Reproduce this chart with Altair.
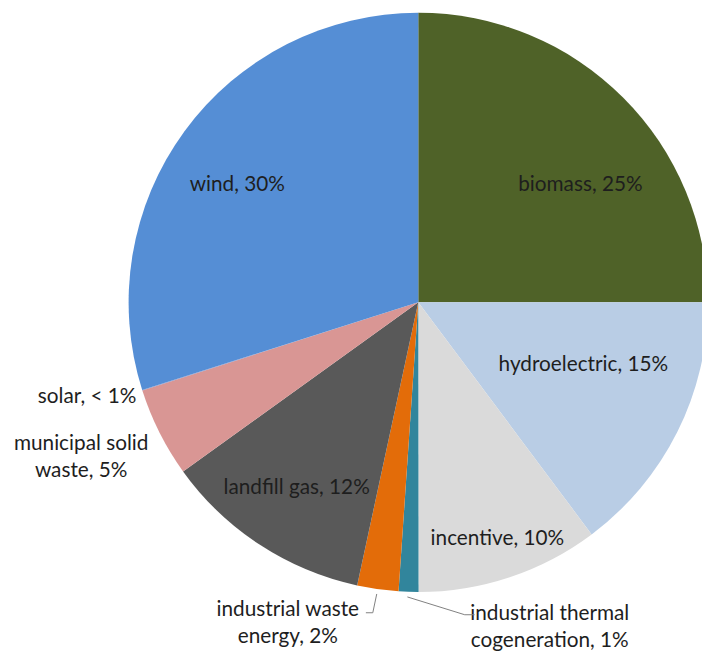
import altair as alt
import pandas as pd

# data (percent of total)
categories = ["biomass", "hydroelectric", "incentive", "industrial thermal cogeneration",
              "industrial waste energy", "landfill gas", "municipal solid waste", "solar", "wind"]
shares = [25.0, 14.8, 10.2, 1.1, 2.3, 11.7, 5.0, 0.03, 29.9]
colors = ["#4F6228", "#B9CDE5", "#DADADA", "#31859C", "#E36C09", "#595959", "#D99694", "#8A8FC0", "#558ED5"]

df = pd.DataFrame({"category": categories, "share": shares, "idx": list(range(len(categories)))})

W, H = 702, 648
CX, CY, R = 415, 294, 293

pie = alt.Chart(df).mark_arc(stroke=None, strokeWidth=0).encode(
    theta=alt.Theta("share:Q", stack=True),
    order=alt.Order("idx:Q", sort="ascending"),
    color=alt.Color("category:N", scale=alt.Scale(domain=categories, range=colors), legend=None),
    x=alt.value(CX), y=alt.value(CY), radius=alt.value(R),
)

# label annotations (text, x, y) in plot coordinates
label_text = ["wind, 30%", "biomass, 25%", "hydroelectric, 15%", "incentive, 10%",
              "landfill gas, 12%", "solar, < 1%", "municipal solid\nwaste, 5%",
              "industrial waste\nenergy, 2%", "industrial thermal\ncogeneration, 1%"]
label_x = [232, 579, 582, 495, 292, 80, 74, 283, 548]
label_y = [175, 175, 357, 533, 482, 390, 437, 605, 609]

layers = [pie]
for t, lx, ly in zip(label_text, label_x, label_y):
    layers.append(
        alt.Chart(pd.DataFrame({"t": [t]})).mark_text(
            font="Lato", fontSize=21, color="#1E1E1E", align="center", baseline="middle",
            lineBreak="\n", lineHeight=28,
        ).encode(text="t:N", x=alt.value(lx), y=alt.value(ly))
    )

# leader lines
segments = [
    (373, 589, 369, 608), (369, 608, 362, 608),
    (404, 592, 462, 610), (462, 610, 472, 610),
]
for x1, y1, x2, y2 in segments:
    layers.append(
        alt.Chart(pd.DataFrame({"a": [0]})).mark_rule(color="#808080", strokeWidth=1).encode(
            x=alt.value(x1), y=alt.value(y1), x2=alt.value(x2), y2=alt.value(y2)
        )
    )

chart = alt.layer(*layers).properties(
    width=W, height=H, autosize=alt.AutoSizeParams(type="none"), padding=0,
).configure_view(stroke=None)

chart.save("out.html", embed_options={"renderer": "svg", "actions": False})
